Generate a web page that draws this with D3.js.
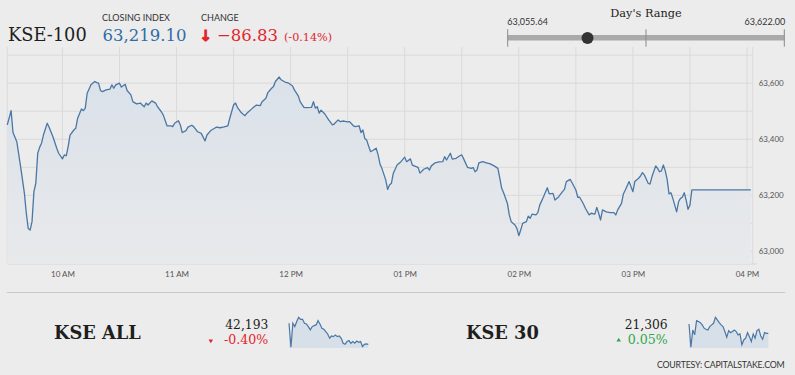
<!DOCTYPE html>
<html>
<head>
<meta charset="utf-8">
<script src="https://cdn.jsdelivr.net/npm/d3@7"></script>
<style>
  body { margin: 0; background: #ececec; }
  svg { display: block; }
  .serif { font-family: "DejaVu Serif", serif; }
  .sans { font-family: Lato, "Open Sans", sans-serif; }
  .axis text { fill: #555; font: 8px Lato, sans-serif; }
  .axis .domain { display: none; }
</style>
</head>
<body>
<svg id="chart" width="795" height="375"></svg>
<script>
// KSE-100 intraday (time, index)
const kseTimes = [
  '09:31','09:33','09:34','09:36','09:38','09:40','09:41','09:42','09:43','09:44','09:45','09:46','09:47','09:48','09:49','09:50',
  '09:52','09:53','09:55','09:57','09:58','10:00','10:01','10:02','10:03','10:04','10:06','10:07','10:08','10:10','10:11','10:12',
  '10:13','10:14','10:15','10:17','10:18','10:19','10:20','10:21','10:23','10:25','10:26','10:27','10:28','10:30','10:31','10:33',
  '10:34','10:36','10:37','10:39','10:41','10:42','10:43','10:44','10:45','10:47','10:49','10:50','10:52','10:53','10:55','10:57',
  '10:58','10:59','11:01','11:02','11:03','11:05','11:06','11:08','11:09','11:11','11:12','11:13','11:15','11:16','11:18','11:20',
  '11:21','11:23','11:25','11:27','11:28','11:30','11:31','11:32','11:34','11:36','11:37','11:40','11:42','11:44','11:45','11:47',
  '11:48','11:50','11:51','11:52','11:54','11:55','11:57','11:59','12:01','12:02','12:04','12:05','12:07','12:08','12:11','12:12',
  '12:13','12:14','12:15','12:16','12:18','12:20','12:22','12:23','12:25','12:26','12:28','12:30','12:31','12:33','12:34','12:36',
  '12:37','12:38','12:39','12:40','12:41','12:42','12:43','12:45','12:46','12:47','12:48','12:50','12:51','12:52','12:53','12:54',
  '12:56','12:58','13:00','13:01','13:03','13:04','13:07','13:08','13:10','13:12','13:13','13:14','13:16','13:18','13:20','13:21',
  '13:22','13:24','13:25','13:27','13:29','13:30','13:31','13:33','13:35','13:36','13:37','13:38','13:39','13:41','13:43','13:45',
  '13:47','13:49','13:50','13:51','13:52','13:54','13:55','13:56','13:58','13:59','14:00','14:01','14:02','14:04','14:05','14:06',
  '14:07','14:09','14:10','14:11','14:13','14:15','14:16','14:18','14:19','14:21','14:23','14:24','14:25','14:27','14:28','14:30',
  '14:31','14:32','14:34','14:35','14:37','14:38','14:40','14:41','14:42','14:43','14:44','14:46','14:48','14:50','14:51','14:52',
  '14:54','14:55','14:56','14:58','14:59','15:00','15:01','15:03','15:04','15:05','15:06','15:08','15:09','15:10','15:12','15:13',
  '15:14','15:15','15:16','15:17','15:18','15:19','15:20','15:21','15:23','15:24','15:25','15:26','15:27','15:28','15:29','15:30',
  '15:31','16:02'
];
const kseValues = [
  63451,63502,63424,63391,63302,63207,63136,63082,63076,63106,63213,63243,63350,63371,63386,63415,
  63457,63443,63409,63368,63350,63330,63344,63341,63374,63415,63433,63439,63475,63508,63502,63511,
  63564,63579,63594,63606,63602,63600,63574,63570,63576,63579,63594,63582,63594,63600,63586,63596,
  63574,63558,63534,63526,63529,63522,63516,63529,63522,63537,63529,63516,63498,63487,63448,63448,
  63445,63457,63466,63451,63424,63431,63443,63450,63445,63427,63424,63421,63394,63415,63431,63439,
  63443,63441,63444,63448,63475,63522,63529,63514,63495,63484,63493,63511,63522,63520,63534,63546,
  63566,63582,63588,63606,63622,63612,63604,63600,63590,63576,63555,63534,63514,63513,63514,63534,
  63511,63516,63493,63504,63490,63469,63451,63455,63469,63463,63465,63462,63463,63448,63445,63448,
  63424,63433,63403,63397,63376,63356,63359,63368,63344,63312,63296,63255,63221,63237,63243,63279,
  63308,63320,63336,63320,63330,63308,63300,63279,63293,63299,63290,63305,63316,63319,63320,63338,
  63326,63350,63329,63332,63341,63344,63330,63300,63296,63299,63284,63290,63316,63320,63316,63312,
  63305,63296,63261,63225,63209,63171,63130,63106,63094,63082,63056,63076,63100,63106,63126,63118,
  63133,63130,63138,63165,63195,63227,63205,63207,63183,63195,63213,63221,63249,63257,63245,63219,
  63193,63193,63169,63154,63130,63136,63133,63157,63136,63112,63148,63141,63138,63138,63130,63148,
  63171,63205,63219,63249,63231,63213,63249,63261,63269,63281,63273,63243,63240,63266,63305,63296,
  63284,63287,63308,63288,63257,63205,63209,63189,63141,63177,63189,63193,63209,63183,63150,63165,
  63219.1,63219.1
];
const yTickValues = [63000, 63200, 63400, 63600];

const closing = 63219.10, change = -86.83, changePct = -0.14;
const dayLow = 63055.64, dayHigh = 63622.00;

// mini indices
const kseAllValues = [
  42370,42168,42370,42342,42384,42420,42403,42403,42370,42364,42342,42314,42342,42350,42356,42392,
  42364,42328,42319,42300,42280,42244,42263,42258,42272,42258,42263,42244,42202,42193,42216,42224,
  42202,42216,42202,42221,42210,42216,42174,42193,42196,42193
];
const kseAllLast = 42193, kseAllPct = -0.40;
const kse30Values = [
  21348,21243,21321,21299,21363,21359,21354,21344,21329,21324,21321,21336,21344,21351,21378,21366,
  21354,21344,21336,21314,21288,21318,21309,21314,21321,21314,21299,21303,21254,21276,21284,21309,
  21291,21269,21303,21284,21318,21324,21294,21279,21309,21306,21306
];
const kse30Last = 21306, kse30Pct = 0.05;

const red = '#e3262c', green = '#2ca84e', blue = '#2f6ca5', lineColor = '#4a77a5';

// plain hyphen for the small negatives
const fmt = d3.formatLocale({ decimal: '.', thousands: ',', grouping: [3], currency: ['', ''], minus: '-' }).format;

const svg = d3.select('#chart');
const parse = d3.timeParse('%H:%M');
const data = kseTimes.map((t, i) => ({ t: parse(t), v: kseValues[i] }));

const plotLeft = 7.3, plotRight = 752.7, plotTop = 47, plotBottom = 264;
const x = d3.scaleTime().domain([parse('09:31'), parse('16:03')]).range([plotLeft, plotRight]);
const y = d3.scaleLinear().domain([62955, 63729]).range([plotBottom, plotTop]);

// grid
let grid = svg.append('g').attr('class', 'grid')
  .attr('stroke', '#dadada').attr('stroke-width', 1);

grid.selectAll('line.h')
  .data(d3.range(63000, 63701, 100))
  .enter().append('line')
  .attr('class', 'h')
  .attr('x1', plotLeft).attr('x2', plotRight)
  .attr('y1', d => y(d)).attr('y2', d => y(d));

grid.selectAll('line.v')
  .data(x.ticks(d3.timeMinute.every(30)).concat(x.domain()))
  .enter().append('line')
  .attr('class', 'v')
  .attr('x1', d => x(d)).attr('x2', d => x(d))
  .attr('y1', plotTop).attr('y2', plotBottom);

grid.append('line')
  .attr('x1', plotLeft).attr('x2', plotRight + 4)
  .attr('y1', plotBottom).attr('y2', plotBottom)
  .attr('stroke', '#d4d4d4');

// area + line
let defs = svg.append('defs');
let grad = defs.append('linearGradient')
  .attr('id', 'fillGrad')
  .attr('gradientUnits', 'userSpaceOnUse')
  .attr('x1', 0).attr('x2', 0).attr('y1', plotTop).attr('y2', plotBottom);
grad.append('stop').attr('offset', 0).attr('stop-color', '#d8e0e9');
grad.append('stop').attr('offset', 1).attr('stop-color', '#e8e9eb');

svg.append('path')
  .datum(data)
  .attr('fill', 'url(#fillGrad)')
  .attr('d', d3.area().x(d => x(d.t)).y0(plotBottom).y1(d => y(d.v)));

svg.append('path')
  .datum(data)
  .attr('fill', 'none')
  .attr('stroke', lineColor)
  .attr('stroke-width', 1.3)
  .attr('stroke-linejoin', 'round')
  .attr('d', d3.line().x(d => x(d.t)).y(d => y(d.v)));

// axes
svg.append('g')
  .attr('class', 'axis')
  .attr('transform', `translate(${plotRight},0)`)
  .call(d3.axisRight(y).tickValues(yTickValues).tickSize(0).tickPadding(6).tickFormat(fmt(',')));

svg.append('g')
  .attr('class', 'axis')
  .attr('transform', `translate(0,${plotBottom})`)
  .call(d3.axisBottom(x).ticks(d3.timeHour.every(1)).tickSize(0).tickPadding(7).tickFormat(d3.timeFormat('%I %p')));

// header
svg.append('text').attr('class', 'serif')
  .attr('x', 8).attr('y', 40.5)
  .attr('font-size', 17.8).attr('fill', '#1e1e1e')
  .text('KSE-100');

svg.append('text').attr('class', 'sans')
  .attr('x', 102).attr('y', 20.7)
  .attr('font-size', 9).attr('fill', '#333')
  .text('CLOSING INDEX');

svg.append('text').attr('class', 'serif')
  .attr('x', 102.5).attr('y', 40.5)
  .attr('font-size', 16.5).attr('fill', blue)
  .text(fmt(',.2f')(closing));

svg.append('text').attr('class', 'sans')
  .attr('x', 201).attr('y', 20.7)
  .attr('font-size', 9).attr('fill', '#333')
  .text('CHANGE');

svg.append('text')
  .attr('x', 199.5).attr('y', 40.5)
  .attr('font-family', 'DejaVu Sans').attr('font-weight', 'bold')
  .attr('font-size', 15).attr('fill', red)
  .attr('stroke', red).attr('stroke-width', 0.9)
  .text('↓');

svg.append('text').attr('class', 'serif')
  .attr('x', 217).attr('y', 40.5)
  .attr('font-size', 16.5).attr('fill', red)
  .text(d3.format('.2f')(change));

svg.append('text').attr('class', 'serif')
  .attr('x', 284).attr('y', 40.5)
  .attr('font-size', 11.2).attr('fill', red)
  .text(`(${fmt('.2f')(changePct)}%)`);

// day's range
const r = d3.scaleLinear().domain([dayLow, dayHigh]).range([507.7, 784.3]);

svg.append('text').attr('class', 'serif')
  .attr('x', r((dayLow + dayHigh) / 2)).attr('y', 16.5)
  .attr('text-anchor', 'middle')
  .attr('font-size', 11.3).attr('fill', '#222')
  .text("Day's Range");

svg.append('text').attr('class', 'sans')
  .attr('x', r(dayLow) - 0.5).attr('y', 25)
  .attr('font-size', 9).attr('fill', '#333')
  .text(fmt(',.2f')(dayLow));

svg.append('text').attr('class', 'sans')
  .attr('x', r(dayHigh) + 1).attr('y', 25)
  .attr('text-anchor', 'end')
  .attr('font-size', 9).attr('fill', '#333')
  .text(fmt(',.2f')(dayHigh));

svg.append('rect')
  .attr('x', r(dayLow)).attr('y', 35)
  .attr('width', r(dayHigh) - r(dayLow)).attr('height', 5.5)
  .attr('fill', '#aaa');

svg.selectAll('line.rangeTick')
  .data([dayLow, (dayLow + dayHigh) / 2, dayHigh])
  .enter().append('line')
  .attr('class', 'rangeTick')
  .attr('x1', d => r(d)).attr('x2', d => r(d))
  .attr('y1', 29.3).attr('y2', 46.7)
  .attr('stroke', '#8a8a8a');

svg.append('circle')
  .attr('cx', r(closing)).attr('cy', 38)
  .attr('r', 6).attr('fill', '#333');

// separator
svg.append('line')
  .attr('x1', 7).attr('x2', 785)
  .attr('y1', 292.5).attr('y2', 292.5)
  .attr('stroke', '#c9c9c9');

// bottom indices
function miniIndex(name, nameX, last, pct, values, valueRight, sparkX) {
  let g = svg.append('g');
  let up = pct >= 0;

  g.append('text').attr('class', 'serif')
    .attr('x', nameX).attr('y', 339)
    .attr('font-size', 17.8).attr('font-weight', 'bold').attr('fill', '#1e1e1e')
    .text(name);

  g.append('text').attr('class', 'serif')
    .attr('x', valueRight).attr('y', 329)
    .attr('text-anchor', 'end')
    .attr('font-size', 12.3).attr('fill', '#1e1e1e')
    .text(fmt(',')(last));

  g.append('text').attr('class', 'serif')
    .attr('x', valueRight).attr('y', 344)
    .attr('text-anchor', 'end')
    .attr('font-size', 12.6).attr('fill', up ? green : red)
    .text(fmt('.2f')(pct) + '%');

  g.append('path')
    .attr('transform', `translate(${valueRight - (up ? 49 : 57.5)},${up ? 340.3 : 340.7}) rotate(${up ? 0 : 180})`)
    .attr('d', d3.symbol(d3.symbolTriangle, 9)())
    .attr('fill', up ? green : red);

  let sx = d3.scaleLinear().domain([0, values.length - 1]).range(sparkX);
  let sy = d3.scaleLinear().domain(d3.extent(values)).range([347.3, 317.3]);

  g.append('path')
    .datum(values)
    .attr('fill', '#d7dfe8')
    .attr('d', d3.area().x((d, i) => sx(i)).y0(348).y1(d => sy(d)));

  g.append('path')
    .datum(values)
    .attr('fill', 'none')
    .attr('stroke', lineColor)
    .attr('stroke-width', 1.2)
    .attr('d', d3.line().x((d, i) => sx(i)).y(d => sy(d)));
}

miniIndex('KSE ALL', 54, kseAllLast, kseAllPct, kseAllValues, 268.3, [289, 368.3]);
miniIndex('KSE 30', 466, kse30Last, kse30Pct, kse30Values, 667.7, [689, 768.3]);

svg.append('text').attr('class', 'sans')
  .attr('x', 784.5).attr('y', 367.7)
  .attr('text-anchor', 'end')
  .attr('font-size', 8.8).attr('fill', '#333')
  .attr('letter-spacing', -0.2)
  .text('COURTESY: CAPITALSTAKE.COM');
</script>
</body>
</html>
